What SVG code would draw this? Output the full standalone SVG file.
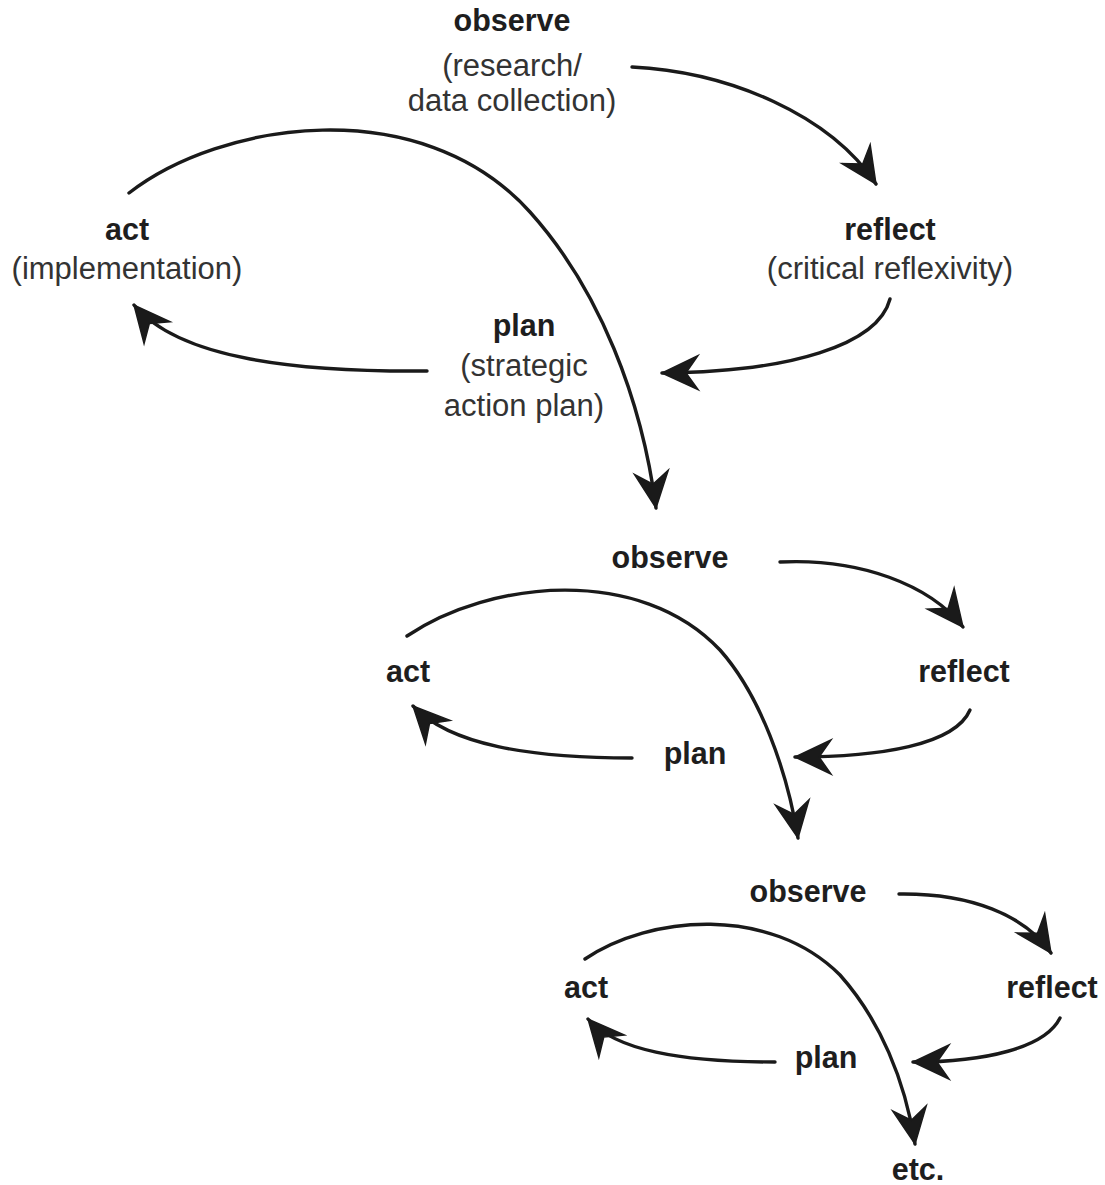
<svg xmlns="http://www.w3.org/2000/svg" width="1105" height="1185" viewBox="0 0 1105 1185">
<defs>
<style>
text{font-family:"Liberation Sans",Arial,Helvetica,sans-serif;text-anchor:middle}
.b{font-weight:bold;font-size:30.5px;fill:#1e1e1e}
.r{font-size:31px;fill:#333333}
.c{fill:none;stroke:#1a1a1a;stroke-width:3.4;stroke-linecap:round}
</style>
<marker id="ah" markerUnits="userSpaceOnUse" markerWidth="44" markerHeight="40" viewBox="-40 -20 44 40" refX="0" refY="0" orient="auto">
<path d="M0,0 L-36,-17 L-24,0 L-36,17 Z" fill="#1a1a1a" stroke="#1a1a1a" stroke-width="1.5" stroke-linejoin="miter"/>
</marker>
</defs>
<rect width="1105" height="1185" fill="#ffffff"/>
<g id="cycle1">
<g id="observe1"><text class="b" x="512" y="31">observe</text><text class="r" x="512" y="76">(research/</text><text class="r" x="512" y="111">data collection)</text></g>
<g id="act1"><text class="b" x="127" y="240">act</text><text class="r" x="127" y="279">(implementation)</text></g>
<g id="reflect1"><text class="b" x="890" y="240">reflect</text><text class="r" x="890" y="279">(critical reflexivity)</text></g>
<g id="plan1"><text class="b" x="524" y="336">plan</text><text class="r" x="524" y="376">(strategic</text><text class="r" x="524" y="416">action plan)</text></g>
</g>
<g id="cycle2">
<g id="observe2"><text class="b" x="670" y="568">observe</text></g>
<g id="act2"><text class="b" x="408" y="682">act</text></g>
<g id="reflect2"><text class="b" x="964" y="682">reflect</text></g>
<g id="plan2"><text class="b" x="695" y="764">plan</text></g>
</g>
<g id="cycle3">
<g id="observe3"><text class="b" x="808" y="902">observe</text></g>
<g id="act3"><text class="b" x="586" y="998">act</text></g>
<g id="reflect3"><text class="b" x="1052" y="998">reflect</text></g>
<g id="plan3"><text class="b" x="826" y="1068">plan</text></g>
<g id="etc"><text class="b" x="918" y="1180">etc.</text></g>
</g>
<g id="connectors">
<path class="c" marker-end="url(#ah)" d="M632,67 C730,72 830,115 876,184"/>
<path class="c" marker-end="url(#ah)" d="M890,299 C878,345 790,372 662,373"/>
<path class="c" marker-end="url(#ah)" d="M427,371 C300,372 180,360 134,305"/>
<path class="c" marker-end="url(#ah)" d="M129,193 C220,122 420,90 530,212 C600,290 642,400 656,508"/>
<path class="c" marker-end="url(#ah)" d="M780,562 C860,558 930,585 963,627"/>
<path class="c" marker-end="url(#ah)" d="M970,710 C955,745 880,757 795,757"/>
<path class="c" marker-end="url(#ah)" d="M632,758 C530,758 450,745 413,706"/>
<path class="c" marker-end="url(#ah)" d="M407,636 C490,580 640,565 720,650 C760,695 787,770 798,838"/>
<path class="c" marker-end="url(#ah)" d="M899,894 C970,893 1025,915 1051,953"/>
<path class="c" marker-end="url(#ah)" d="M1060,1018 C1045,1048 985,1062 913,1062"/>
<path class="c" marker-end="url(#ah)" d="M775,1062 C680,1062 615,1050 588,1019"/>
<path class="c" marker-end="url(#ah)" d="M585,959 C650,915 770,905 840,975 C880,1020 905,1080 915,1144"/>
</g>
</svg>
